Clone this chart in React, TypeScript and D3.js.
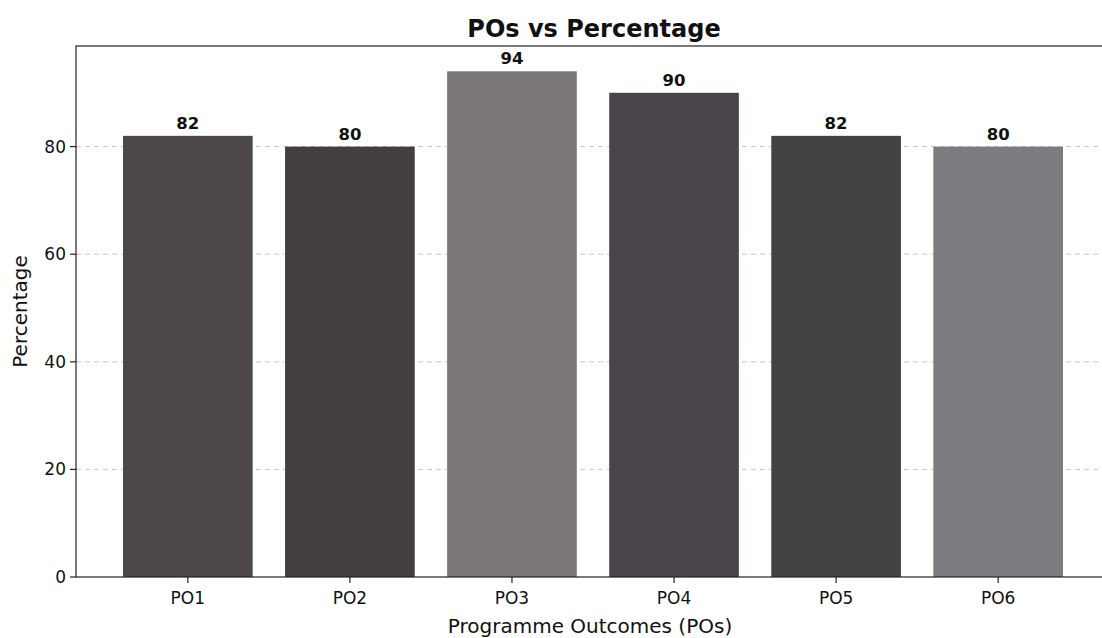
import React from "react";
import * as d3 from "d3";

const categories = ["PO1", "PO2", "PO3", "PO4", "PO5", "PO6"];
const values = [82, 80, 94, 90, 82, 80];
const barColors = ["#4d4749", "#433e40", "#7a7577", "#48444a", "#434345", "#7c7c80"];
const yTicks = [0, 20, 40, 60, 80];

const W = 1102;
const H = 638;
const margin = { left: 76, top: 46, right: -8, bottom: 61 };

export default function App() {
  const x = d3
    .scaleBand<string>()
    .domain(categories)
    .range([margin.left, W - margin.right])
    .paddingInner(0.2)
    .paddingOuter(0.29);
  const y = d3.scaleLinear().domain([0, 98.7]).range([H - margin.bottom, margin.top]);
  const font = "'DejaVu Sans', sans-serif";
  const x0 = margin.left;
  const x1 = W - margin.right;
  const yb = y(0);
  const yt = y(98.7);
  return (
    <svg width={W} height={H} style={{ position: "absolute", left: 0, top: 0, background: "#fff" }} fontFamily={font}>
      <text x={594} y={37} textAnchor="middle" fontSize={24} fontWeight="bold" fill="#111">
        POs vs Percentage
      </text>
      {yTicks.filter((t) => t > 0).map((t) => (
        <line key={"g" + t} x1={x0} x2={x1} y1={y(t)} y2={y(t)} stroke="#c4c4cc" strokeDasharray="5,4" strokeWidth={1} />
      ))}
      {categories.map((c, i) => (
        <rect key={c} x={x(c)} y={y(values[i])} width={x.bandwidth()} height={yb - y(values[i])} fill={barColors[i]} />
      ))}
      {categories.map((c, i) => (
        <text key={"v" + c} x={(x(c) as number) + x.bandwidth() / 2} y={y(values[i]) - 7} textAnchor="middle" fontSize={16.5} fontWeight="bold" fill="#111">
          {values[i]}
        </text>
      ))}
      <rect x={x0} y={yt} width={x1 - x0} height={yb - yt} fill="none" stroke="#222" strokeWidth={1.2} />
      {yTicks.map((t) => (
        <g key={"t" + t}>
          <line x1={x0 - 6} x2={x0} y1={y(t)} y2={y(t)} stroke="#222" strokeWidth={1.2} />
          <text x={x0 - 10} y={y(t)} dy="0.35em" textAnchor="end" fontSize={17} fill="#111">
            {t}
          </text>
        </g>
      ))}
      {categories.map((c) => {
        const cx = (x(c) as number) + x.bandwidth() / 2;
        return (
          <g key={"xt" + c}>
            <line x1={cx} x2={cx} y1={yb} y2={yb + 6} stroke="#222" strokeWidth={1.2} />
            <text x={cx} y={yb + 27} textAnchor="middle" fontSize={17} fill="#111">
              {c}
            </text>
          </g>
        );
      })}
      <text x={590} y={633} textAnchor="middle" fontSize={20} fill="#111">
        Programme Outcomes (POs)
      </text>
      <text transform={`translate(27, ${(yt + yb) / 2}) rotate(-90)`} textAnchor="middle" fontSize={20} fill="#111">
        Percentage
      </text>
    </svg>
  );
}
